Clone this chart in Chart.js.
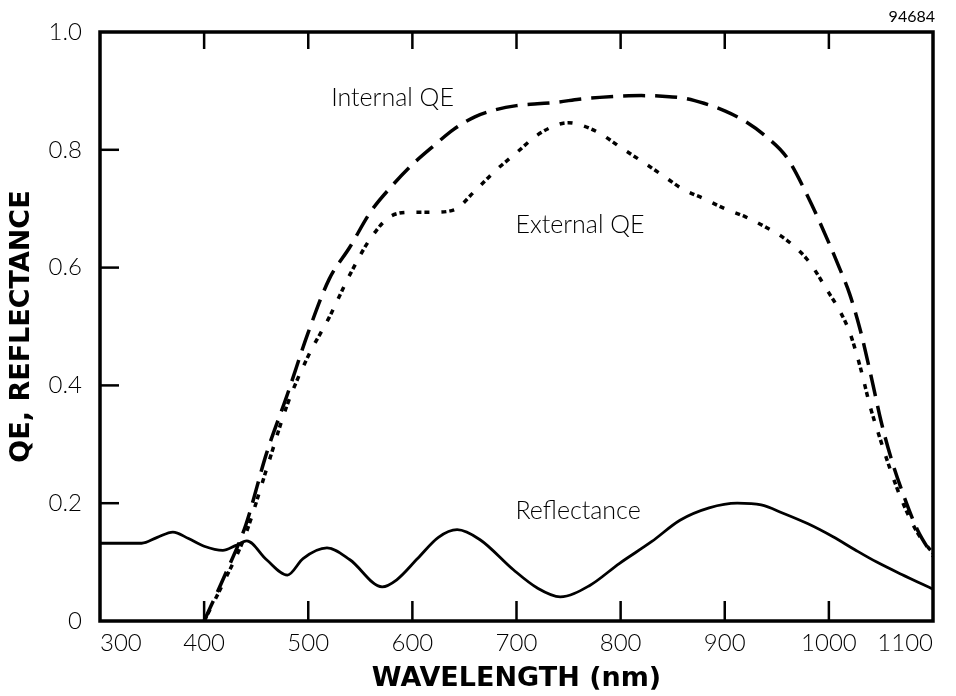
<!DOCTYPE html>
<html lang="en">
<head>
    <meta charset="UTF-8">
    <title>QE and Reflectance</title>
    <script src="https://cdn.jsdelivr.net/npm/chart.js"></script>
    <style>
        body { margin: 0; background: #fff; }
        #qeChart { display: block; }
    </style>
</head>
<body>
    <canvas id="qeChart" width="956" height="696"></canvas>

    <script type=text/javascript>
        // values
        var xTicks = [300, 400, 500, 600, 700, 800, 900, 1000, 1100];
        var yTicks = [0, 0.2, 0.4, 0.6, 0.8, 1.0];

        var internalWl = [400, 420, 440, 460, 480, 500, 520, 540, 560, 580, 600, 620, 640, 660, 680, 700, 720, 740, 760, 780,
                          800, 820, 840, 860, 880, 900, 920, 940, 960, 980, 1000, 1010, 1020, 1030, 1040, 1050, 1060, 1070, 1085, 1100];
        var internalQE = [0.0, 0.078, 0.163, 0.285, 0.385, 0.49, 0.58, 0.635, 0.695, 0.738, 0.775, 0.806, 0.835, 0.856, 0.868, 0.875, 0.878, 0.881, 0.886, 0.889,
                          0.891, 0.892, 0.891, 0.888, 0.879, 0.866, 0.848, 0.822, 0.786, 0.72, 0.642, 0.6, 0.555, 0.495, 0.42, 0.34, 0.275, 0.222, 0.155, 0.11];

        var externalWl = [400, 420, 440, 460, 480, 500, 520, 540, 560, 580, 600, 620, 640, 660, 680, 700, 720, 740, 750, 760, 780,
                          800, 820, 840, 860, 880, 900, 920, 940, 960, 980, 1000, 1010, 1020, 1030, 1040, 1050, 1060, 1070, 1085, 1100];
        var externalQE = [0.0, 0.07, 0.148, 0.258, 0.368, 0.45, 0.515, 0.588, 0.65, 0.688, 0.694, 0.694, 0.698, 0.73, 0.765, 0.795, 0.825, 0.843, 0.846, 0.843, 0.828,
                          0.804, 0.781, 0.757, 0.733, 0.717, 0.7, 0.686, 0.668, 0.646, 0.612, 0.557, 0.528, 0.49, 0.432, 0.362, 0.305, 0.252, 0.205, 0.15, 0.115];

        var reflWl = [300, 340, 355, 370, 385, 400, 418, 430, 441, 460, 480, 495, 518, 540, 571, 585, 605, 625, 643, 665, 697, 720, 742,
                      770, 799, 830, 857, 885, 912, 935, 956, 980, 1004, 1025, 1046, 1070, 1100];
        var reflectance = [0.132, 0.132, 0.142, 0.151, 0.14, 0.127, 0.12, 0.128, 0.136, 0.104, 0.078, 0.106, 0.124, 0.104, 0.058, 0.07, 0.106, 0.142, 0.155, 0.138, 0.087, 0.056, 0.041,
                           0.06, 0.098, 0.135, 0.171, 0.192, 0.2, 0.197, 0.183, 0.165, 0.143, 0.121, 0.1, 0.079, 0.054];

        // curve labels: text, wavelength, value (baseline, left edge)
        var noteText = ['Internal QE', 'External QE', 'Reflectance'];
        var noteWl = [522, 699, 699];
        var noteVal = [0.874, 0.659, 0.173];

        var figureId = '94684';

        function toPoints(xs, ys) {
            return xs.map(function (x, i) { return {x: x, y: ys[i]}; });
        }

        var textFont = "'Lato', 'DejaVu Sans', sans-serif";
        var titleFont = "'DejaVu Sans', sans-serif";

        // frame, inward tick marks and the curve labels
        var framePlugin = {
            id: 'frame',
            afterDatasetsDraw: function (chart) {
                var ctx = chart.ctx;
                var a = chart.chartArea;
                var xs = chart.scales.x, ys = chart.scales.y;
                ctx.save();
                ctx.strokeStyle = '#000';
                ctx.lineWidth = 2.5;
                xTicks.forEach(function (t) {
                    if (t === xs.min || t === xs.max) return;
                    var px = xs.getPixelForValue(t);
                    ctx.beginPath();
                    ctx.moveTo(px, a.bottom); ctx.lineTo(px, a.bottom - 20);
                    ctx.moveTo(px, a.top); ctx.lineTo(px, a.top + 17);
                    ctx.stroke();
                });
                yTicks.forEach(function (t) {
                    if (t === ys.min || t === ys.max) return;
                    var py = ys.getPixelForValue(t);
                    ctx.beginPath();
                    ctx.moveTo(a.left, py); ctx.lineTo(a.left + 19, py);
                    ctx.stroke();
                });
                ctx.lineWidth = 3.5;
                ctx.strokeRect(a.left, a.top, a.right - a.left, a.bottom - a.top);

                ctx.fillStyle = '#000';
                ctx.font = '300 25px ' + textFont;
                ctx.textAlign = 'left';
                ctx.textBaseline = 'alphabetic';
                noteText.forEach(function (t, i) {
                    ctx.fillText(t, xs.getPixelForValue(noteWl[i]), ys.getPixelForValue(noteVal[i]));
                });

                ctx.font = '16px ' + textFont;
                ctx.textAlign = 'right';
                ctx.fillText(figureId, a.right + 2, a.top - 10);
                ctx.restore();
            }
        };

        var ctx = document.getElementById('qeChart').getContext('2d');
        var qeChart = new Chart(ctx, {
            type: 'line',
            data: {
                datasets: [
                    {
                        label: 'Internal QE',
                        data: toPoints(internalWl, internalQE),
                        borderColor: '#000',
                        borderWidth: 3.5,
                        borderDash: [22, 10],
                        cubicInterpolationMode: 'monotone'
                    },
                    {
                        label: 'External QE',
                        data: toPoints(externalWl, externalQE),
                        borderColor: '#000',
                        borderWidth: 3.5,
                        borderDash: [5, 3, 5, 12],
                        cubicInterpolationMode: 'monotone'
                    },
                    {
                        label: 'Reflectance',
                        data: toPoints(reflWl, reflectance),
                        borderColor: '#000',
                        borderWidth: 2.8,
                        cubicInterpolationMode: 'monotone'
                    }
                ]
            },
            options: {
                responsive: false,
                animation: false,
                layout: {
                    padding: {top: 32, right: 23, left: 0, bottom: 0}
                },
                elements: {
                    point: {radius: 0}
                },
                plugins: {
                    legend: {display: false},
                    tooltip: {enabled: false}
                },
                scales: {
                    x: {
                        type: 'linear',
                        min: 300,
                        max: 1100,
                        afterBuildTicks: function (scale) {
                            scale.ticks = xTicks.map(function (v) { return {value: v}; });
                        },
                        afterFit: function (scale) { scale.height = 75; },
                        grid: {display: false},
                        border: {display: false},
                        ticks: {
                            color: '#000',
                            align: 'inner',
                            padding: 0,
                            maxRotation: 0,
                            font: {family: textFont, size: 24, weight: '300'},
                            callback: function (v) { return String(v); }
                        },
                        title: {
                            display: true,
                            text: 'WAVELENGTH (nm)',
                            color: '#000',
                            padding: {top: 0, bottom: 1},
                            font: {family: titleFont, size: 27, weight: 'bold'}
                        }
                    },
                    y: {
                        min: 0,
                        max: 1,
                        afterBuildTicks: function (scale) {
                            scale.ticks = yTicks.map(function (v) { return {value: v}; });
                        },
                        afterFit: function (scale) { scale.width = 100; },
                        grid: {display: false},
                        border: {display: false},
                        ticks: {
                            color: '#000',
                            padding: 10,
                            font: {family: textFont, size: 24, weight: '300'},
                            callback: function (v) { return v === 0 ? '0' : v.toFixed(1); }
                        },
                        title: {
                            display: true,
                            text: 'QE, REFLECTANCE',
                            color: '#000',
                            padding: {top: 6, bottom: 0},
                            font: {family: titleFont, size: 27, weight: 'bold'}
                        }
                    }
                }
            },
            plugins: [framePlugin]
        });
    </script>
</body>
</html>
